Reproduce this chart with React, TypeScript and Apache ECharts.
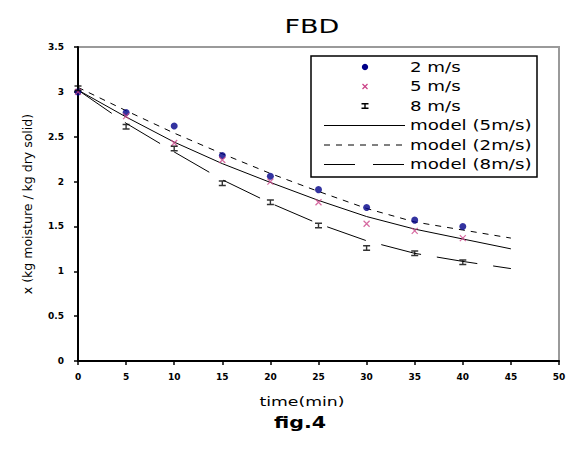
import React, { useEffect, useRef } from 'react';
import * as echarts from 'echarts';

// measured data (time in min, moisture in kg/kg dry solid)
const timePoints = [0, 5, 10, 15, 20, 25, 30, 35, 40];
const measured2 = [3.0, 2.77, 2.62, 2.29, 2.06, 1.91, 1.71, 1.57, 1.5];
const measured5 = [3.0, 2.73, 2.43, 2.24, 2.0, 1.77, 1.53, 1.45, 1.37];
const measured8 = [3.04, 2.61, 2.37, 1.98, 1.77, 1.51, 1.26, 1.2, 1.1];

// model curves
const modelTime = [0, 5, 10, 15, 20, 25, 30, 35, 40, 45];
const model5 = [3.02, 2.72, 2.44, 2.2, 1.99, 1.79, 1.61, 1.47, 1.36, 1.25];
const model2 = [3.05, 2.79, 2.54, 2.31, 2.09, 1.89, 1.7, 1.55, 1.46, 1.37];
const model8 = [3.02, 2.65, 2.33, 2.02, 1.76, 1.53, 1.34, 1.2, 1.11, 1.03];

const seriesNames = ['2 m/s', '5 m/s', '8 m/s', 'model (5m/s)', 'model (2m/s)', 'model (8m/s)'];

const BLUE = '#000088';
const PINK = '#cc4488';
const FONT = 'DejaVu Sans';
const SX = 1.35;

const X_SYMBOL = 'path://M0,0L10,10M10,0L0,10';
const I_SYMBOL = 'path://M0,0H10V2H6V6H10V8H0V6H4V2H0Z';

const pair = (xs: number[], ys: number[]) => xs.map((x, i) => [x, ys[i]]);

export default function App() {
  const ref = useRef<HTMLDivElement>(null);
  useEffect(() => {
    document.body.style.margin = '0';
    const chart = echarts.init(ref.current!, null, { renderer: 'svg' });

    const legendX = 311;
    const legendY = 56;
    const rowY = [67, 86.5, 106, 125.5, 145, 164.5];
    const textX = 410;
    const legendText = (i: number) => ({
      type: 'text',
      x: textX,
      y: rowY[i],
      scaleX: SX,
      style: {
        text: seriesNames[i],
        fontSize: 13.5,
        fontFamily: FONT,
        fill: '#000',
        align: 'left',
        verticalAlign: 'middle',
      },
    });
    const mx = 365;

    chart.setOption({
      animation: false,
      backgroundColor: '#fff',
      grid: {
        left: 78,
        right: 22,
        top: 47,
        bottom: 89,
        show: true,
        borderColor: '#9a9a9a',
        borderWidth: 2,
        backgroundColor: '#fff',
      },
      xAxis: {
        type: 'value',
        min: 0,
        max: 50,
        interval: 5,
        axisLine: { show: true, onZero: false, lineStyle: { color: '#000', width: 2 } },
        axisTick: { show: true, inside: false, length: 4, lineStyle: { color: '#000', width: 1.5 } },
        axisLabel: { color: '#000', fontFamily: FONT, fontWeight: 'bold', fontSize: 9, margin: 11 },
        splitLine: { show: false },
      },
      yAxis: {
        type: 'value',
        min: 0,
        max: 3.5,
        interval: 0.5,
        name: 'x (kg moisture / kg dry solid)',
        nameLocation: 'middle',
        nameGap: 44,
        nameTextStyle: { color: '#000', fontFamily: FONT, fontSize: 12.5 },
        axisLine: { show: true, onZero: false, lineStyle: { color: '#000', width: 2 } },
        axisTick: { show: true, inside: false, length: 4, lineStyle: { color: '#000', width: 1.5 } },
        axisLabel: { color: '#000', fontFamily: FONT, fontWeight: 'bold', fontSize: 9, margin: 14 },
        splitLine: { show: false },
      },
      series: [
        {
          name: seriesNames[0],
          type: 'scatter',
          data: pair(timePoints, measured2),
          symbol: 'circle',
          symbolSize: 7,
          itemStyle: { color: BLUE },
          clip: false,
          z: 5,
        },
        {
          name: seriesNames[1],
          type: 'scatter',
          data: pair(timePoints, measured5),
          symbol: X_SYMBOL,
          symbolSize: 6,
          itemStyle: { color: PINK, borderColor: PINK, borderWidth: 1.2 },
          clip: false,
          z: 5,
        },
        {
          name: seriesNames[2],
          type: 'scatter',
          data: pair(timePoints, measured8),
          symbol: I_SYMBOL,
          symbolSize: [7, 6],
          itemStyle: { color: '#000' },
          clip: false,
          z: 5,
        },
        {
          name: seriesNames[3],
          type: 'line',
          data: pair(modelTime, model5),
          symbol: 'none',
          smooth: false,
          lineStyle: { color: '#000', width: 1, type: 'solid' },
          z: 3,
        },
        {
          name: seriesNames[4],
          type: 'line',
          data: pair(modelTime, model2),
          symbol: 'none',
          smooth: false,
          lineStyle: { color: '#000', width: 1, type: [6, 6] },
          z: 3,
        },
        {
          name: seriesNames[5],
          type: 'line',
          data: pair(modelTime, model8),
          symbol: 'none',
          smooth: false,
          lineStyle: { color: '#000', width: 1, type: [41, 16] },
          z: 3,
        },
      ],
      graphic: [
        {
          type: 'text',
          x: 312,
          y: 26,
          scaleX: SX,
          style: { text: 'FBD', fontSize: 20, fontFamily: FONT, fill: '#000', align: 'center', verticalAlign: 'middle' },
        },
        {
          type: 'text',
          x: 302,
          y: 402,
          scaleX: 1.33,
          style: { text: 'time(min)', fontSize: 13, fontFamily: FONT, fill: '#000', align: 'center', verticalAlign: 'middle' },
        },
        {
          type: 'text',
          x: 300,
          y: 423,
          scaleX: 1.37,
          style: { text: 'fig.4', fontSize: 15, fontWeight: 'bold', fontFamily: FONT, fill: '#000', align: 'center', verticalAlign: 'middle' },
        },
        {
          type: 'group',
          z: 10,
          children: [
            {
              type: 'rect',
              shape: { x: legendX, y: legendY, width: 226, height: 121 },
              style: { fill: '#fff', stroke: '#000', lineWidth: 1.5 },
            },
            { type: 'circle', shape: { cx: mx, cy: rowY[0], r: 3.2 }, style: { fill: BLUE } },
            { type: 'line', shape: { x1: mx - 2.5, y1: rowY[1] - 2.5, x2: mx + 2.5, y2: rowY[1] + 2.5 }, style: { stroke: PINK, lineWidth: 1.2 } },
            { type: 'line', shape: { x1: mx + 2.5, y1: rowY[1] - 2.5, x2: mx - 2.5, y2: rowY[1] + 2.5 }, style: { stroke: PINK, lineWidth: 1.2 } },
            {
              type: 'polygon',
              shape: {
                points: [
                  [mx - 3.5, rowY[2] - 3], [mx + 3.5, rowY[2] - 3], [mx + 3.5, rowY[2] - 1.5], [mx + 0.7, rowY[2] - 1.5],
                  [mx + 0.7, rowY[2] + 1.5], [mx + 3.5, rowY[2] + 1.5], [mx + 3.5, rowY[2] + 3], [mx - 3.5, rowY[2] + 3],
                  [mx - 3.5, rowY[2] + 1.5], [mx - 0.7, rowY[2] + 1.5], [mx - 0.7, rowY[2] - 1.5], [mx - 3.5, rowY[2] - 1.5],
                ],
              },
              style: { fill: '#000' },
            },
            { type: 'line', shape: { x1: 324, y1: rowY[3], x2: 405, y2: rowY[3] }, style: { stroke: '#000', lineWidth: 1 } },
            { type: 'line', shape: { x1: 324, y1: rowY[4], x2: 405, y2: rowY[4] }, style: { stroke: '#000', lineWidth: 1, lineDash: [6, 6] } },
            { type: 'line', shape: { x1: 324, y1: rowY[5], x2: 405, y2: rowY[5] }, style: { stroke: '#000', lineWidth: 1, lineDash: [31, 18] } },
            legendText(0),
            legendText(1),
            legendText(2),
            legendText(3),
            legendText(4),
            legendText(5),
          ],
        },
      ],
    });
    return () => chart.dispose();
  }, []);
  return <div ref={ref} style={{ width: 581, height: 450 }} />;
}
